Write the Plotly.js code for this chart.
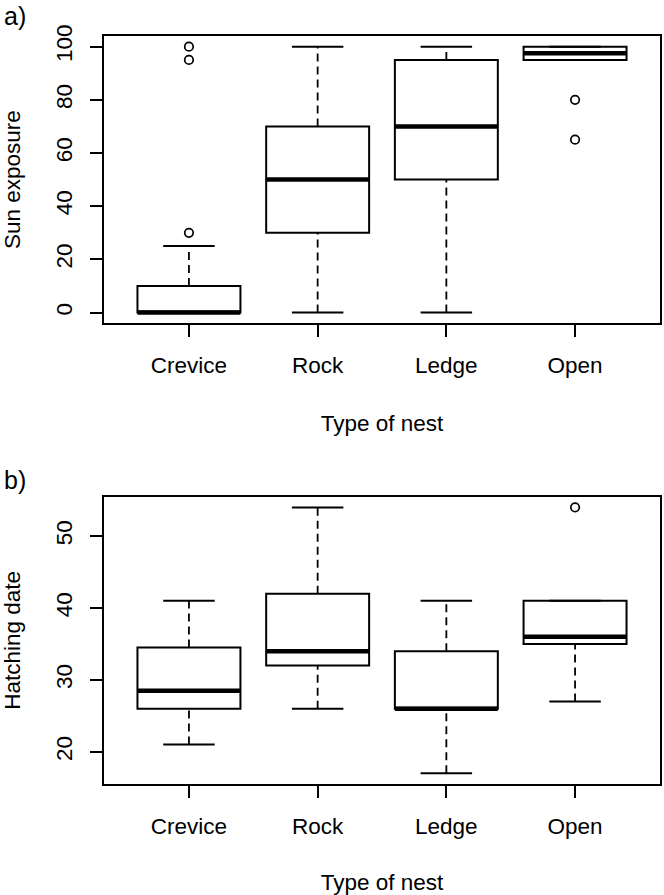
<!DOCTYPE html>
<html>
<head>
<meta charset="utf-8">
<script src="https://cdn.plot.ly/plotly-3.0.1.min.js"></script>
<style>html,body{margin:0;padding:0;background:#fff;}#chart{width:664px;height:895px;}</style>
</head>
<body>
<div id="chart"></div>
<script>
// ---- data ----
const categories = ['Crevice', 'Rock', 'Ledge', 'Open'];
const positions = [1, 2, 3, 4];

// Panel a) Sun exposure
const sunLow = [0, 0, 0, 95];
const sunQ1 = [0, 30, 50, 95];
const sunMedian = [0, 50, 70, 97.5];
const sunQ3 = [10, 70, 95, 100];
const sunHigh = [25, 100, 100, 100];
const sunOutlierGroup = [1, 1, 1, 4, 4];
const sunOutlierValue = [30, 95, 100, 80, 65];

// Panel b) Hatching date
const hatchLow = [21, 26, 17, 27];
const hatchQ1 = [26, 32, 26, 35];
const hatchMedian = [28.5, 34, 26, 36];
const hatchQ3 = [34.5, 42, 34, 41];
const hatchHigh = [41, 54, 41, 41];
const hatchOutlierGroup = [4];
const hatchOutlierValue = [54];

// ---- styles ----
const BOXW = 0.8, CAPW = 0.4;
const FONT = 'Liberation Sans, Arial, Helvetica, sans-serif';
const FS = 22.5;

function panelTraces(low, q1, med, q3, high, outG, outV, xa, ya) {
  const traces = [];
  traces.push({
    type: 'box', x: positions, q1: q1, median: med, q3: q3,
    lowerfence: q1, upperfence: q3, width: BOXW,
    fillcolor: '#ffffff', line: {color: '#000', width: 2}, whiskerwidth: 0,
    boxpoints: false, hoverinfo: 'skip', xaxis: xa, yaxis: ya, showlegend: false
  });
  const wx = [], wy = [], cx = [], cy = [], mx = [], my = [];
  positions.forEach((p, i) => {
    wx.push(p, p, null, p, p, null);
    wy.push(low[i], q1[i], null, q3[i], high[i], null);
    cx.push(p - CAPW / 2, p + CAPW / 2, null, p - CAPW / 2, p + CAPW / 2, null);
    cy.push(low[i], low[i], null, high[i], high[i], null);
    mx.push(p - BOXW / 2, p + BOXW / 2, null);
    my.push(med[i], med[i], null);
  });
  traces.push({type: 'scatter', mode: 'lines', x: wx, y: wy, line: {color: '#000', width: 1.8, dash: '8px,5px'}, xaxis: xa, yaxis: ya, showlegend: false, hoverinfo: 'skip'});
  traces.push({type: 'scatter', mode: 'lines', x: cx, y: cy, line: {color: '#000', width: 2}, xaxis: xa, yaxis: ya, showlegend: false, hoverinfo: 'skip'});
  traces.push({type: 'scatter', mode: 'lines', x: mx, y: my, line: {color: '#000', width: 4.5}, xaxis: xa, yaxis: ya, showlegend: false, hoverinfo: 'skip'});
  traces.push({type: 'scatter', mode: 'markers', x: outG, y: outV,
    marker: {symbol: 'circle-open', size: 8.5, color: '#000', line: {width: 1.7, color: '#000'}},
    xaxis: xa, yaxis: ya, showlegend: false, hoverinfo: 'skip'});
  return traces;
}

const data = [].concat(
  panelTraces(sunLow, sunQ1, sunMedian, sunQ3, sunHigh, sunOutlierGroup, sunOutlierValue, 'x', 'y'),
  panelTraces(hatchLow, hatchQ1, hatchMedian, hatchQ3, hatchHigh, hatchOutlierGroup, hatchOutlierValue, 'x2', 'y2')
);

const xCommon = {
  range: [0.34, 4.66], tickvals: positions, ticktext: categories,
  ticks: 'outside', ticklen: 12, tickwidth: 2, tickcolor: '#000',
  showline: true, mirror: true, linewidth: 2, linecolor: '#000',
  showgrid: false, zeroline: false, automargin: false,
  ticklabelstandoff: 9,
  tickfont: {family: FONT, size: FS, color: '#000'},
  title: {text: 'Type of nest', font: {family: FONT, size: FS, color: '#000'}, standoff: 38}
};
const yCommon = {
  ticks: 'outside', ticklen: 12, tickwidth: 2, tickcolor: '#000',
  showline: true, mirror: true, linewidth: 2, linecolor: '#000',
  showgrid: false, zeroline: false, automargin: false, tickangle: -90,
  ticklabelstandoff: 9,
  tickfont: {family: FONT, size: FS, color: '#000'}
};

const layout = {
  width: 664, height: 895,
  margin: {l: 104, r: 4, t: 36, b: 111},
  paper_bgcolor: '#fff', plot_bgcolor: '#fff',
  showlegend: false,
  font: {family: FONT, size: FS, color: '#000'},
  xaxis: Object.assign({}, xCommon, {anchor: 'y'}),
  xaxis2: Object.assign({}, xCommon, {anchor: 'y2'}),
  yaxis: Object.assign({}, yCommon, {
    domain: [0.616, 1], range: [-4, 104], tickvals: [0, 20, 40, 60, 80, 100],
    anchor: 'x', title: {text: 'Sun exposure', font: {family: FONT, size: FS, color: '#000'}, standoff: 30}
  }),
  yaxis2: Object.assign({}, yCommon, {
    domain: [0, 0.384], range: [15.52, 55.48], tickvals: [20, 30, 40, 50],
    anchor: 'x2', title: {text: 'Hatching date', font: {family: FONT, size: FS, color: '#000'}, standoff: 30}
  }),
  annotations: [
    {text: 'a)', xref: 'paper', yref: 'paper', x: -0.1835, y: 1.0267, xanchor: 'left', yanchor: 'middle', showarrow: false, font: {family: FONT, size: 25, color: '#000'}},
    {text: 'b)', xref: 'paper', yref: 'paper', x: -0.1835, y: 0.406, xanchor: 'left', yanchor: 'middle', showarrow: false, font: {family: FONT, size: 25, color: '#000'}}
  ]
};

Plotly.newPlot('chart', data, layout, {displayModeBar: false, staticPlot: true});
</script>
</body>
</html>
